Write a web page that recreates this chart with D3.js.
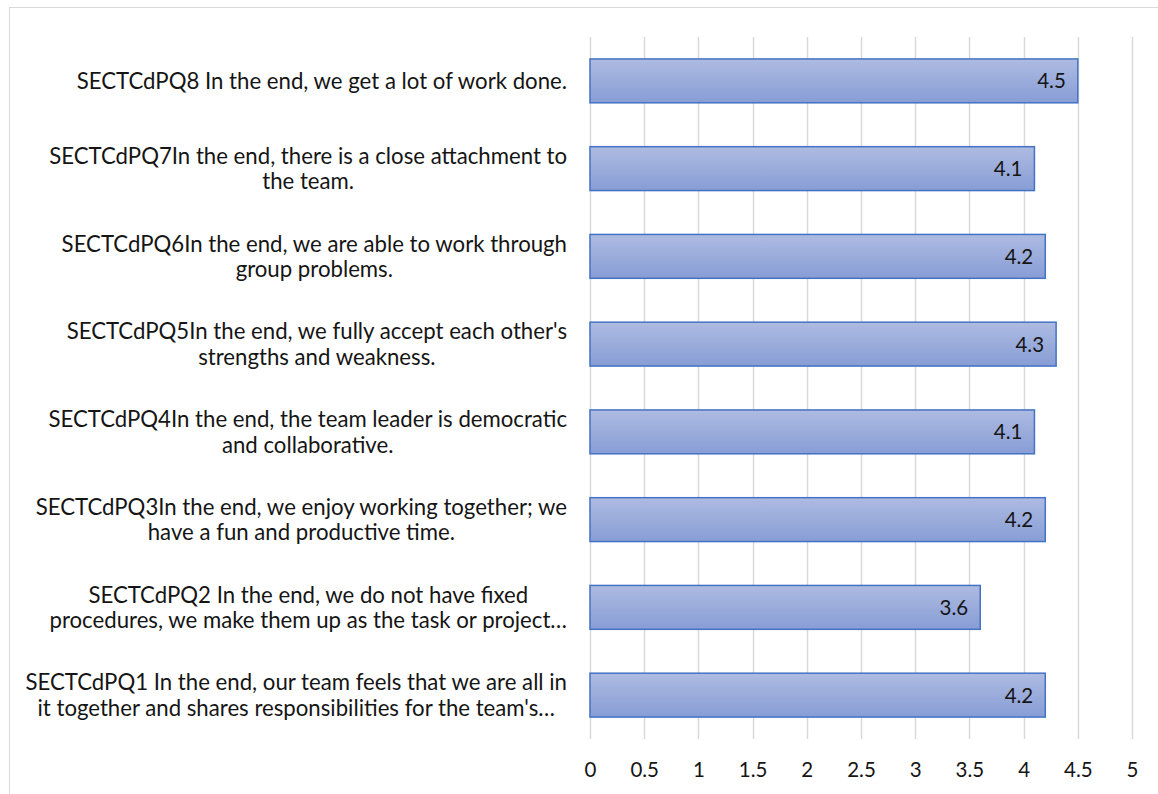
<!DOCTYPE html>
<html>
<head>
<meta charset="utf-8">
<script src="https://cdn.jsdelivr.net/npm/d3@7"></script>
<style>
  html, body { margin: 0; padding: 0; background: #fff; }
  svg { display: block; }
  text { font-family: Lato, "Open Sans", sans-serif; fill: #151515; }
</style>
</head>
<body>
<svg id="chart" width="1158" height="794"></svg>
<script>
// Category labels, one array entry per line of the wrapped label (bottom to top order in the chart)
const categories = [
  ["SECTCdPQ1 In the end, our team feels that we are all in", "it together and shares responsibilities for the team's\u2026"],
  ["SECTCdPQ2 In the end, we do not have fixed", "procedures, we make them up as the task or project\u2026"],
  ["SECTCdPQ3In the end, we enjoy working together; we", "have a fun and productive time."],
  ["SECTCdPQ4In the end, the team leader is democratic", "and collaborative."],
  ["SECTCdPQ5In the end, we fully accept each other's", "strengths and weakness."],
  ["SECTCdPQ6In the end, we are able to work through", "group problems."],
  ["SECTCdPQ7In the end, there is a close attachment to", "the team."],
  ["SECTCdPQ8 In the end, we get a lot of work done."]
];
const values = [4.2, 3.6, 4.2, 4.1, 4.3, 4.2, 4.1, 4.5];
const tickValues = [0, 0.5, 1, 1.5, 2, 2.5, 3, 3.5, 4, 4.5, 5];

const svg = d3.select("#chart");
const W = 1158, H = 794;
const FS_CAT = 22.2;
const FS_NUM = 20.5;

// chart frame
svg.append("rect")
  .attr("x", 9.5).attr("y", 7.5)
  .attr("width", W + 10).attr("height", H + 10)
  .attr("fill", "none").attr("stroke", "#d9d9d9").attr("stroke-width", 1);

const plot = { left: 590, right: 1132, top: 37, bottom: 739 };

const x = d3.scaleLinear().domain([0, 5]).range([plot.left, plot.right]);
const ids = d3.range(categories.length);
// top category is the last in the list
const y = d3.scaleBand().domain(ids.slice().reverse()).range([plot.top, plot.bottom]).paddingInner(0.5).paddingOuter(0.25);

// vertical gridlines
svg.append("g")
  .selectAll("line")
  .data(tickValues)
  .join("line")
  .attr("x1", d => Math.round(x(d)) + 0.5)
  .attr("x2", d => Math.round(x(d)) + 0.5)
  .attr("y1", plot.top)
  .attr("y2", plot.bottom)
  .attr("stroke", "#d9d9d9")
  .attr("stroke-width", 1.5);

// bar gradient
const defs = svg.append("defs");
const grad = defs.append("linearGradient")
  .attr("id", "barFill")
  .attr("x1", 0).attr("y1", 0).attr("x2", 0).attr("y2", 1);
grad.append("stop").attr("offset", "0%").attr("stop-color", "#aebbe2");
grad.append("stop").attr("offset", "100%").attr("stop-color", "#879dd5");

// bars
svg.append("g")
  .selectAll("rect")
  .data(ids)
  .join("rect")
  .attr("x", x(0))
  .attr("y", i => y(i))
  .attr("width", i => x(values[i]) - x(0))
  .attr("height", y.bandwidth())
  .attr("fill", "url(#barFill)")
  .attr("stroke", "#4472c4")
  .attr("stroke-width", 1.5);

// value labels inside bar ends
svg.append("g")
  .selectAll("text")
  .data(ids)
  .join("text")
  .attr("x", i => x(values[i]) - 12)
  .attr("y", i => y(i) + y.bandwidth() / 2)
  .attr("dy", "0.36em")
  .attr("text-anchor", "end")
  .attr("font-size", FS_NUM)
  .text(i => values[i].toFixed(1));

// x axis tick labels
const xAxis = d3.axisBottom(x).tickValues(tickValues).tickSize(0).tickPadding(0)
  .tickFormat(d => d3.format("")(d));
const gx = svg.append("g").attr("transform", `translate(0, ${plot.bottom + 31})`).call(xAxis);
gx.select(".domain").remove();
gx.selectAll("text").attr("dy", "0.36em").attr("font-size", FS_NUM)
  .attr("font-family", "Lato, sans-serif").attr("fill", "#151515");

// category labels: block right-aligned, lines centered within block
const labelRight = 567;
const lineH = 25.5;
const lg = svg.append("g");
ids.forEach(i => {
  const lines = categories[i];
  const cy = y(i) + y.bandwidth() / 2;
  const g = lg.append("g");
  const texts = lines.map((ln, k) => g.append("text")
    .attr("font-size", FS_CAT)
    .attr("y", cy + (k - (lines.length - 1) / 2) * lineH)
    .attr("dy", "0.36em")
    .attr("text-anchor", "middle")
    .text(ln));
  const widths = texts.map(t => t.node().getComputedTextLength());
  const wMax = d3.max(widths);
  texts.forEach(t => t.attr("x", labelRight - wMax / 2));
});
</script>
</body>
</html>
